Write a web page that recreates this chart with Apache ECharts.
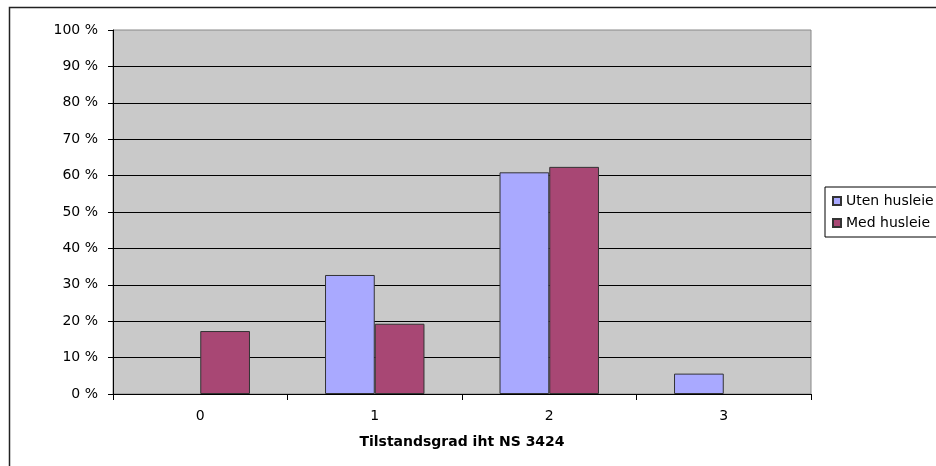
<!DOCTYPE html>
<html>
<head>
<meta charset="utf-8">
<script src="https://cdn.jsdelivr.net/npm/echarts@6/dist/echarts.min.js"></script>
<style>
html,body{margin:0;padding:0;background:#fff;}
#c{width:936px;height:466px;}
</style>
</head>
<body>
<div id="c"></div>
<script>
const categories = ['0', '1', '2', '3'];
const seriesNames = ['Uten husleie', 'Med husleie'];
const utenHusleie = [0, 32.7, 60.9, 5.6];
const medHusleie = [17.3, 19.3, 62.4, 0];
const xAxisTitle = 'Tilstandsgrad iht NS 3424';

// zero values have no visible bar
const toBar = arr => arr.map(v => (v === 0 ? '-' : v));

const FONT = '"DejaVu Sans", "Liberation Sans", Arial, sans-serif';
const chart = echarts.init(document.getElementById('c'), null, {renderer: 'canvas'});
chart.setOption({
  animation: false,
  backgroundColor: '#fff',
  graphic: [{
    type: 'rect', left: 7, top: 5, z: -10,
    shape: {width: 1100, height: 1100},
    style: {fill: 'none', stroke: '#222', lineWidth: 1.5}
  }],
  grid: {
    left: 113, top: 30, right: 125, bottom: 72,
    show: true, backgroundColor: '#C9C9C9', borderColor: '#888', borderWidth: 1
  },
  legend: {
    orient: 'vertical', left: 825, top: 187,
    padding: [6, 10, 6, 7],
    itemWidth: 8, itemHeight: 8, itemGap: 6,
    backgroundColor: '#fff', borderColor: '#000', borderWidth: 1,
    icon: 'rect',
    textStyle: {fontFamily: FONT, fontSize: 14, color: '#000', lineHeight: 16},
    data: seriesNames
  },
  xAxis: {
    type: 'category', data: categories,
    axisLine: {lineStyle: {color: '#000', width: 1}},
    axisTick: {show: true, length: 6, lineStyle: {color: '#000'}},
    axisLabel: {fontFamily: FONT, fontSize: 14, color: '#000', margin: 15},
    name: xAxisTitle, nameLocation: 'middle', nameGap: 41,
    nameTextStyle: {fontFamily: FONT, fontSize: 14, fontWeight: 'bold', color: '#000'}
  },
  yAxis: {
    type: 'value', min: 0, max: 100, interval: 10,
    axisLine: {show: true, lineStyle: {color: '#000', width: 1}},
    axisTick: {show: true, length: 5, lineStyle: {color: '#000'}},
    axisLabel: {fontFamily: FONT, fontSize: 14, color: '#000', margin: 15, formatter: '{value} %'},
    splitLine: {show: true, showMaxLine: false, lineStyle: {color: '#000', width: 1}}
  },
  series: [
    {
      name: seriesNames[0], type: 'bar', data: toBar(utenHusleie),
      barGap: '0%', barCategoryGap: '43%',
      itemStyle: {color: '#A9A9FF', borderColor: '#333', borderWidth: 1}
    },
    {
      name: seriesNames[1], type: 'bar', data: toBar(medHusleie),
      barGap: '0%', barCategoryGap: '43%',
      itemStyle: {color: '#A84774', borderColor: '#333', borderWidth: 1}
    }
  ]
});
</script>
</body>
</html>
